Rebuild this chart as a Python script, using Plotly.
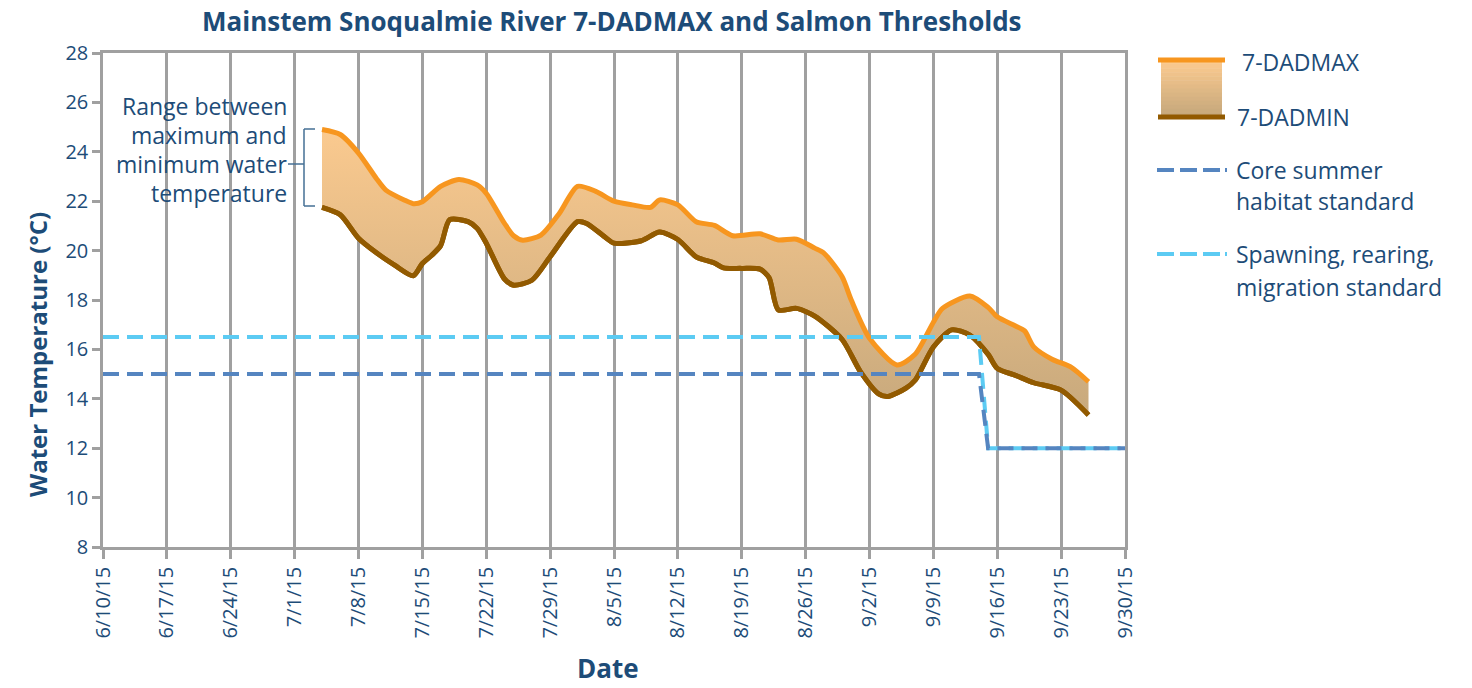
import plotly.graph_objects as go

# ---------------- data ----------------
max_dates = ["2015-07-04", "2015-07-06", "2015-07-08", "2015-07-10", "2015-07-11", "2015-07-13",
             "2015-07-14", "2015-07-15", "2015-07-17", "2015-07-19", "2015-07-21", "2015-07-22",
             "2015-07-24", "2015-07-25", "2015-07-26", "2015-07-28", "2015-07-30", "2015-08-01",
             "2015-08-03", "2015-08-05", "2015-08-07", "2015-08-09", "2015-08-10", "2015-08-12",
             "2015-08-14", "2015-08-16", "2015-08-18", "2015-08-21", "2015-08-23", "2015-08-25",
             "2015-08-27", "2015-08-28", "2015-08-30", "2015-08-31", "2015-09-02", "2015-09-05",
             "2015-09-07", "2015-09-09", "2015-09-10", "2015-09-13", "2015-09-15", "2015-09-16",
             "2015-09-18", "2015-09-19", "2015-09-20", "2015-09-22", "2015-09-24", "2015-09-26"]
max_vals = [24.9, 24.7, 23.95, 22.9, 22.45, 22.05,
            21.9, 21.98, 22.6, 22.88, 22.66, 22.32,
            21.1, 20.6, 20.42, 20.63, 21.5, 22.6,
            22.4, 22.0, 21.85, 21.75, 22.05, 21.85,
            21.17, 21.02, 20.6, 20.68, 20.43, 20.46,
            20.1, 19.9, 18.94, 18.0, 16.45, 15.37,
            15.8, 17.1, 17.66, 18.16, 17.7, 17.32,
            16.95, 16.75, 16.1, 15.6, 15.3, 14.69]

min_dates = ["2015-07-04", "2015-07-06", "2015-07-08", "2015-07-10", "2015-07-12", "2015-07-14",
             "2015-07-15", "2015-07-16", "2015-07-17", "2015-07-18", "2015-07-20", "2015-07-21",
             "2015-07-22", "2015-07-24", "2015-07-25", "2015-07-27", "2015-07-29", "2015-08-01",
             "2015-08-02", "2015-08-04", "2015-08-05", "2015-08-08", "2015-08-10", "2015-08-12",
             "2015-08-14", "2015-08-16", "2015-08-17", "2015-08-19", "2015-08-21", "2015-08-22",
             "2015-08-23", "2015-08-25", "2015-08-27", "2015-08-30", "2015-09-01", "2015-09-03",
             "2015-09-04", "2015-09-06", "2015-09-07", "2015-09-09", "2015-09-11", "2015-09-13",
             "2015-09-15", "2015-09-16", "2015-09-18", "2015-09-20", "2015-09-23", "2015-09-26"]
min_vals = [21.75, 21.45, 20.5, 19.9, 19.4, 18.98,
            19.48, 19.8, 20.2, 21.25, 21.17, 20.9,
            20.3, 18.85, 18.6, 18.8, 19.75, 21.17,
            21.1, 20.55, 20.3, 20.4, 20.75, 20.45,
            19.75, 19.5, 19.3, 19.28, 19.25, 18.9,
            17.6, 17.66, 17.35, 16.4, 15.1, 14.2,
            14.09, 14.43, 14.75, 16.1, 16.79, 16.58,
            15.8, 15.23, 14.95, 14.65, 14.35, 13.34]

std_dates = ["2015-06-10", "2015-09-14", "2015-09-15", "2015-10-01"]
core_vals = [15, 15, 12, 12]
spawn_vals = [16.5, 16.5, 12, 12]

tick_dates = ["2015-06-10", "2015-06-17", "2015-06-24", "2015-07-01", "2015-07-08", "2015-07-15",
              "2015-07-22", "2015-07-29", "2015-08-05", "2015-08-12", "2015-08-19", "2015-08-26",
              "2015-09-02", "2015-09-09", "2015-09-16", "2015-09-23", "2015-09-30"]
tick_text = ["6/10/15", "6/17/15", "6/24/15", "7/1/15", "7/8/15", "7/15/15", "7/22/15", "7/29/15",
             "8/5/15", "8/12/15", "8/19/15", "8/26/15", "9/2/15", "9/9/15", "9/16/15", "9/23/15",
             "9/30/15"]

# ---------------- style ----------------
FONT = "Open Sans"
TXT = "#1d4c78"
GRID = "#a0a0a0"
ORANGE = "#f7961f"
BROWN = "#925a00"
CORE = "#5585c0"
SPAWN = "#5ccbf3"
FILL_TOP = "#fbca8f"
FILL_BOT = "#c6a87c"

W, H = 1472, 688
L, R, T, B = 103, 1125, 53, 547   # plot area in page pixels


def px(x):
    return (x - L) / (R - L)


def py(y):
    return (B - y) / (B - T)


fig = go.Figure()

fig.add_trace(go.Scatter(x=min_dates, y=min_vals, mode="lines",
                         line=dict(color=BROWN, width=5, shape="spline", smoothing=0.7),
                         hoverinfo="skip", showlegend=False))
fig.add_trace(go.Scatter(x=max_dates, y=max_vals, mode="lines", fill="tonexty",
                         fillgradient=dict(type="vertical", start=13, stop=25,
                                           colorscale=[[0, FILL_BOT], [1, FILL_TOP]]),
                         line=dict(color=ORANGE, width=5, shape="spline", smoothing=0.7),
                         hoverinfo="skip", showlegend=False))
fig.add_trace(go.Scatter(x=min_dates, y=min_vals, mode="lines",
                         line=dict(color=BROWN, width=5, shape="spline", smoothing=0.7),
                         hoverinfo="skip", showlegend=False))

fig.add_trace(go.Scatter(x=std_dates, y=spawn_vals, mode="lines",
                         line=dict(color=SPAWN, width=4, dash="16px,8px"),
                         hoverinfo="skip", showlegend=False))
fig.add_trace(go.Scatter(x=std_dates, y=core_vals, mode="lines",
                         line=dict(color=CORE, width=4, dash="16px,8px"),
                         hoverinfo="skip", showlegend=False))

shapes = []
annotations = []

# Legend: band
n = 14
top, bot = 60, 117
c1 = tuple(int(FILL_TOP[k:k + 2], 16) for k in (1, 3, 5))
c2 = tuple(int(FILL_BOT[k:k + 2], 16) for k in (1, 3, 5))
for i in range(n):
    f = i / (n - 1)
    c = tuple(round(a + (b - a) * f) for a, b in zip(c1, c2))
    y0 = top + (bot - top) * i / n
    y1 = top + (bot - top) * (i + 1) / n
    shapes.append(dict(type="rect", xref="paper", yref="paper", x0=px(1161), x1=px(1222),
                       y0=py(y0), y1=py(y1 + 0.5), line=dict(width=0),
                       fillcolor="rgb(%d,%d,%d)" % c, layer="above"))
shapes.append(dict(type="line", xref="paper", yref="paper", x0=px(1158), x1=px(1225),
                   y0=py(top), y1=py(top), line=dict(color=ORANGE, width=5)))
shapes.append(dict(type="line", xref="paper", yref="paper", x0=px(1158), x1=px(1225),
                   y0=py(bot), y1=py(bot), line=dict(color=BROWN, width=5)))
for yy, col in ((170, CORE), (254, SPAWN)):
    shapes.append(dict(type="line", xref="paper", yref="paper", x0=px(1157), x1=px(1227),
                       y0=py(yy), y1=py(yy),
                       line=dict(color=col, width=4, dash="17px,6px,17px,6px,17px,5px,3px,20px")))

leg_texts = [("7-DADMAX", 1240, 62), ("7-DADMIN", 1235, 117), ("Core summer", 1234, 170),
             ("habitat standard", 1234, 201), ("Spawning, rearing,", 1234, 254),
             ("migration standard", 1234, 287)]
for t, x, y in leg_texts:
    annotations.append(dict(text=t, xref="paper", yref="paper", x=px(x), y=py(y),
                            xanchor="left", yanchor="middle", showarrow=False,
                            font=dict(family=FONT, size=23, color=TXT)))

# Range annotation
for t, y in (("Range between", 106), ("maximum and", 135), ("minimum water", 164),
             ("temperature", 193)):
    annotations.append(dict(text=t, xref="paper", yref="paper", x=px(289), y=py(y),
                            xanchor="right", yanchor="middle", showarrow=False,
                            font=dict(family=FONT, size=23, color=TXT)))
BR = "#456f94"
shapes += [
    dict(type="line", xref="paper", yref="paper", x0=px(304), x1=px(304), y0=py(129), y1=py(206),
         line=dict(color=BR, width=1.5)),
    dict(type="line", xref="paper", yref="paper", x0=px(304), x1=px(315), y0=py(129), y1=py(129),
         line=dict(color=BR, width=1.5)),
    dict(type="line", xref="paper", yref="paper", x0=px(304), x1=px(315), y0=py(206), y1=py(206),
         line=dict(color=BR, width=1.5)),
    dict(type="line", xref="paper", yref="paper", x0=px(288), x1=px(304), y0=py(164), y1=py(164),
         line=dict(color=BR, width=1.5)),
]

# Axis titles / title
annotations.append(dict(text="<b>Water Temperature (°C)</b>", xref="paper", yref="paper",
                        x=px(37), y=py(355), textangle=-90, showarrow=False,
                        xanchor="center", yanchor="middle",
                        font=dict(family=FONT, size=24, color=TXT)))
annotations.append(dict(text="<b>Date</b>", xref="paper", yref="paper", x=px(608), y=py(668),
                        showarrow=False, xanchor="center", yanchor="middle",
                        font=dict(family=FONT, size=26, color=TXT)))
annotations.append(dict(text="<b>Mainstem Snoqualmie River 7-DADMAX and Salmon Thresholds</b>",
                        xref="paper", yref="paper", x=px(612), y=py(21),
                        showarrow=False, xanchor="center", yanchor="middle",
                        font=dict(family=FONT, size=26, color=TXT)))

fig.update_layout(
    width=W, height=H,
    margin=dict(l=L, r=W - R, t=T, b=H - B, autoexpand=False),
    paper_bgcolor="white", plot_bgcolor="white",
    shapes=shapes, annotations=annotations, showlegend=False,
)
fig.update_xaxes(type="date", range=["2015-06-10", "2015-09-30"],
                 tickvals=tick_dates, ticktext=tick_text, tickangle=-90,
                 tickfont=dict(family=FONT, size=20, color=TXT),
                 showgrid=True, gridcolor=GRID, gridwidth=2.5,
                 showline=True, linecolor=GRID, linewidth=2.5, mirror=True,
                 ticks="outside", ticklen=9, tickwidth=2.5, tickcolor=GRID, zeroline=False)
fig.update_yaxes(range=[8, 28], dtick=2, tick0=8,
                 tickfont=dict(family=FONT, size=20, color=TXT),
                 showgrid=False, showline=True, linecolor=GRID, linewidth=2.5, mirror=True,
                 ticks="outside", ticklen=8, tickwidth=2.5, tickcolor=GRID, zeroline=False)

fig.write_html("out.html", config={"displayModeBar": False},
               post_script="document.body.style.margin='0';document.body.style.padding='0';")
